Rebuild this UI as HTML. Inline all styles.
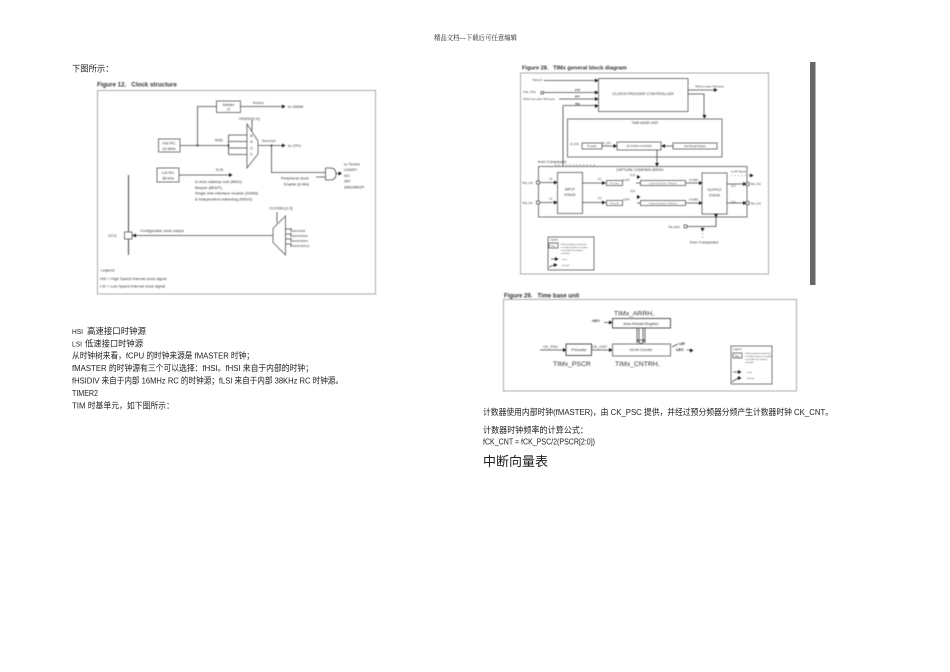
<!DOCTYPE html>
<html><head><meta charset="utf-8">
<style>
html,body{margin:0;padding:0;background:#fff;width:950px;height:672px;overflow:hidden}
svg{position:absolute;left:0;top:0}
.d{filter:blur(0.45px)}
.d text{font-family:"Liberation Sans",sans-serif;fill:#333}
.t{filter:blur(0.25px)}
.t text{font-family:"Liberation Sans","Noto Sans CJK SC",sans-serif;fill:#222;font-size:8.6px}
.l{stroke:#444;stroke-width:.8;fill:none}
.b{stroke:#555;stroke-width:.8;fill:#fff}
.a{fill:#111;stroke:none}
</style></head><body>
<svg width="950" height="672" viewBox="0 0 950 672" xmlns="http://www.w3.org/2000/svg">
<defs>
<g id="ar"><path class="a" d="M0-2L3.5 0L0 2Z"/></g>
<g id="ad"><path class="a" d="M-2 0L2 0L0 3.5Z"/></g>
<g id="al"><path class="a" d="M0-2L-3.5 0L0 2Z"/></g>
</defs>

<g class="t">
<text x="434" y="40" textLength="83" lengthAdjust="spacingAndGlyphs" style="font-family:'Liberation Serif','Noto Serif CJK SC',serif;font-size:6.8px" fill="#444">精品文档---下载后可任意编辑</text>
<text x="72" y="71.500" style="font-size:8.300px">下图所示：</text>
<text x="72" y="334" textLength="11" lengthAdjust="spacingAndGlyphs" style="font-size:7.500px">HSI</text>
<text x="87" y="334" textLength="59" lengthAdjust="spacingAndGlyphs">高速接口时钟源</text>
<text x="72" y="346.500" textLength="10" lengthAdjust="spacingAndGlyphs" style="font-size:7.500px">LSI</text>
<text x="85" y="346.500" textLength="58" lengthAdjust="spacingAndGlyphs">低速接口时钟源</text>
<text x="72" y="358.500" textLength="182" lengthAdjust="spacingAndGlyphs">从时钟树来看，fCPU 的时钟来源是 fMASTER 时钟；</text>
<text x="72" y="371" textLength="241" lengthAdjust="spacingAndGlyphs">fMASTER 的时钟源有三个可以选择：fHSI。fHSI 来自于内部的时钟；</text>
<text x="72" y="383.500" textLength="271" lengthAdjust="spacingAndGlyphs">fHSIDIV 来自于内部 16MHz RC 的时钟源；fLSI 来自于内部 38KHz RC 时钟源。</text>
<text x="72" y="396" textLength="26" lengthAdjust="spacingAndGlyphs" style="font-size:7.800px">TIMER2</text>
<text x="72" y="408.500" textLength="102" lengthAdjust="spacingAndGlyphs">TIM 时基单元，如下图所示：</text>
<text x="483" y="415" textLength="350" lengthAdjust="spacingAndGlyphs">计数器使用内部时钟(fMASTER)，由 CK_PSC 提供，并经过预分频器分频产生计数器时钟 CK_CNT。</text>
<text x="483" y="433" textLength="105" lengthAdjust="spacingAndGlyphs">计数器时钟频率的计算公式：</text>
<text x="483" y="444.500" textLength="112" lengthAdjust="spacingAndGlyphs">fCK_CNT = fCK_PSC/2(PSCR[2:0])</text>
<text x="483" y="466" style="font-size:13px">中断向量表</text>
</g>

<!-- Figure 12 -->
<g class="d">
<text x="97" y="86.500" font-size="6.200" font-weight="bold">Figure 12.&#160;&#160;&#160;Clock structure</text>
<rect x="97.500" y="90.500" width="278" height="203.500" fill="#fff" stroke="#aaa" stroke-width="1"/>
<rect class="b" x="216.500" y="101" width="24" height="11.500"/>
<text x="228.500" y="105.800" font-size="3.800" text-anchor="middle">Divider</text>
<text x="228.500" y="110.500" font-size="3.800" text-anchor="middle">/2</text>
<text x="253" y="104" font-size="4">f<tspan font-size="3">HSIDIV</tspan></text>
<path class="l" d="M240.500 106.500H283M197.500 145.500V106.500H216.500M180 145.500H228M228.500 135V154.500M228.500 135H247M228.500 141.500H247M228.500 148H247M228.500 154.500H247M258 145.500H282M271.500 145.500V172.500H325"/>
<use href="#ar" x="282" y="106.500"/><use href="#ar" x="282" y="145.500"/>
<text x="288" y="107.800" font-size="4">to SWIM</text>
<text x="288" y="146.800" font-size="4">to CPU</text>
<rect class="b" x="158.500" y="139" width="21.500" height="13"/>
<text x="169" y="144.500" font-size="3.900" text-anchor="middle">HSI RC</text>
<text x="169" y="149.800" font-size="3.900" text-anchor="middle">16 MHz</text>
<text x="215" y="141.500" font-size="4">fHSI</text>
<circle class="a" cx="197.500" cy="145.500" r=".9"/><circle class="a" cx="228.500" cy="145.500" r=".9"/><circle class="a" cx="271.500" cy="145.500" r=".9"/>
<path class="b" d="M247 124L258 141V154L247 168Z"/>
<path class="l" d="M252 131V120"/>
<text x="239" y="120" font-size="3.900">HSIDIV[1:0]</text>
<text x="250" y="137" font-size="3.200">/8</text><text x="250" y="143" font-size="3.200">/4</text><text x="250" y="149.500" font-size="3.200">/2</text><text x="250" y="155.500" font-size="3.200">/1</text>
<text x="262" y="142" font-size="3.900">f<tspan font-size="3">MASTER</tspan></text>
<rect class="b" x="157" y="168" width="22" height="14"/>
<text x="168" y="174" font-size="3.900" text-anchor="middle">LSI RC</text>
<text x="168" y="179.500" font-size="3.900" text-anchor="middle">38 kHz</text>
<path class="l" d="M179 175H231"/><use href="#ar" x="229" y="175"/>
<text x="216" y="171" font-size="4">fLSI</text>
<text x="195" y="183" font-size="3.900">to Auto wakeup unit (AWU),</text>
<text x="195" y="189" font-size="3.900">Beeper (BEEP),</text>
<text x="195" y="194.500" font-size="3.900">Single wire interface module (SWIM)</text>
<text x="195" y="200.500" font-size="3.900">&amp; Independent watchdog (IWDG)</text>
<text x="281" y="179.500" font-size="3.900">Peripheral clock</text>
<text x="284" y="185.500" font-size="3.900">Enable (8 bits)</text>
<path class="l" d="M316 177H325M325.500 168V180M325.500 168H330Q336 168 336 174Q336 180 330 180H325.500M336 173.500H340"/>
<use href="#ar" x="338.500" y="173.500"/>
<text x="344" y="165.500" font-size="3.900">to Timers</text>
<text x="344" y="171" font-size="3.900">USART</text>
<text x="344" y="177" font-size="3.900">I2C</text>
<text x="344" y="182.500" font-size="3.900">SPI</text>
<text x="344" y="188.500" font-size="3.900">AWU/BEEP</text>
<path d="M128.500 175V255" stroke="#555" stroke-width="1.100" fill="none"/>
<rect class="b" x="124.500" y="232" width="7.500" height="7"/>
<text x="108" y="237" font-size="3.900">CCO</text>
<path class="l" d="M132 235.500H273"/><use href="#al" x="136" y="235.500"/>
<text x="140" y="232" font-size="3.900">Configurable clock output</text>
<text x="269" y="209.500" font-size="3.900">CCOSEL[1:0]</text>
<path class="l" d="M277 223V212"/>
<path class="b" d="M273 228.500L285.500 216V255L273 242.500Z"/>
<path class="l" d="M285.500 229H291M285.500 234H291M285.500 239H291M285.500 244H291M291 228V232M291 233V237M291 238V242M291 243V247"/>
<text x="292" y="232" font-size="3">fMASTER</text><text x="292" y="237" font-size="3">fMASTER/2</text><text x="292" y="242" font-size="3">fMASTER/4</text><text x="292" y="247" font-size="3">fMASTER/16</text>
<text x="101" y="271.500" font-size="3.900">Legend:</text>
<text x="100" y="280" font-size="3.900">HSI = High Speed Internal clock signal</text>
<text x="100" y="287.500" font-size="3.900">LSI = Low Speed Internal clock signal</text>
</g>

<!-- Figure 28 -->
<g class="d">
<text x="522" y="69.500" font-size="5.600" font-weight="bold">Figure 28.&#160;&#160;&#160;TIMx general block diagram</text>
<rect x="520.500" y="73" width="248" height="201" fill="#fff" stroke="#aaa" stroke-width="1"/>
<rect class="b" x="598.500" y="78.500" width="89.500" height="33"/>
<text x="643" y="95" font-size="4" text-anchor="middle">CLOCK/TRIGGER CONTROLLER</text>
<path class="l" d="M544 80.500H598M544 92.500H598M559 99H598M563 105.500H598M563 106V172"/>
<use href="#ar" x="595" y="80.500"/><use href="#ar" x="595" y="92.500"/><use href="#ar" x="595" y="99"/><use href="#ar" x="595" y="106"/>
<text x="532" y="81" font-size="2.500">TIMxCLK</text>
<text x="523" y="93" font-size="2.500">TIMx_TRIG</text><rect class="b" x="541" y="91.500" width="2.500" height="2.500"/>
<text x="523" y="100" font-size="2.500">TRGO from other TIM timers</text>
<text x="575" y="91" font-size="2.500" font-weight="bold">ETR</text><text x="575" y="97.500" font-size="2.500" font-weight="bold">RFY</text><text x="575" y="105" font-size="2.500" font-weight="bold">TRC</text>
<path class="l" d="M688 90H716M688 94H704V118"/><use href="#ar" x="714" y="90"/><use href="#ad" x="704.500" y="115"/>
<text x="695" y="87.500" font-size="2.500">TRGO to other TIM timers</text>
<rect class="b" x="567.500" y="119" width="154.500" height="38"/>
<text x="645" y="124" font-size="3.400" text-anchor="middle">TIME BASE UNIT</text>
<rect class="b" x="582" y="143" width="20" height="6"/>
<text x="592" y="147" font-size="2.300" text-anchor="middle">Prescaler</text>
<rect class="b" x="617" y="142" width="44" height="8"/>
<text x="639" y="147" font-size="2.500" text-anchor="middle">UP-DOWN COUNTER</text>
<rect class="b" x="673" y="143" width="44" height="6" stroke-width="1.100"/>
<text x="695" y="147" font-size="2.300" text-anchor="middle">Auto-Reload Register</text>
<text x="570" y="145" font-size="2.300">CK_PSC</text><text x="602" y="144" font-size="2.300">CK_CNT</text>
<path class="l" d="M602 146H617M673 146H661M657 150V166"/><use href="#ar" x="613.500" y="146"/><use href="#al" x="665" y="146"/><use href="#ad" x="657" y="163"/>
<text x="538" y="163" font-size="3.800">from Comparator</text>
<path d="M555 165H594.500V186" stroke="#777" stroke-width=".7" stroke-dasharray="1.500 2" fill="none"/>
<rect class="b" x="538.500" y="166.500" width="208.500" height="50.500"/>
<text x="640" y="171" font-size="3.500" text-anchor="middle">CAPTURE COMPARE ARRAY</text>
<rect class="b" x="557.500" y="172.500" width="25" height="41"/>
<text x="570" y="190.500" font-size="3.500" text-anchor="middle">INPUT</text><text x="570" y="196" font-size="3.500" text-anchor="middle">STAGE</text>
<rect class="b" x="702" y="173" width="25" height="41"/>
<text x="714.500" y="191" font-size="3.500" text-anchor="middle">OUTPUT</text><text x="714.500" y="196.500" font-size="3.500" text-anchor="middle">STAGE</text>
<path class="l" d="M540 182.500H557M540 202.500H557M582 183H606M582 202.500H606M636 183H640M637 203H640M686 183H702M686 203H702M727 184H746M727 203H746"/>
<use href="#ar" x="554" y="182.500"/><use href="#ar" x="554" y="202.500"/><use href="#ar" x="602" y="183"/><use href="#ar" x="602" y="202.500"/><use href="#ar" x="699" y="183"/><use href="#ar" x="699" y="203"/><use href="#ar" x="743" y="184"/><use href="#ar" x="743" y="203"/>
<rect class="b" x="536.500" y="181" width="3" height="3"/><rect class="b" x="536.500" y="201" width="3" height="3"/><rect class="b" x="746" y="182.500" width="3" height="3"/><rect class="b" x="746" y="201.500" width="3" height="3"/>
<text x="522" y="184" font-size="2.300">TIMx_CH2</text><text x="522" y="204" font-size="2.300">TIMx_CH1</text>
<text x="750" y="185" font-size="2.300">TIMx_CH1</text><text x="750" y="204.500" font-size="2.300">TIMx_CH2</text>
<text x="549" y="180" font-size="2.300">TI2</text><text x="549" y="200" font-size="2.300">TI1</text>
<text x="598" y="180" font-size="2.300">IC1</text><text x="598" y="199" font-size="2.300">IC2</text>
<rect class="b" x="606.500" y="180.500" width="16" height="5" fill="#eee"/><text x="614.500" y="184" font-size="2.200" text-anchor="middle">Prescaler</text>
<rect class="b" x="606.500" y="200.500" width="16" height="5" fill="#eee"/><text x="614.500" y="204" font-size="2.200" text-anchor="middle">Prescaler</text>
<text x="623" y="181" font-size="2.300">IC1PS</text><text x="623" y="200.500" font-size="2.300">IC2PS</text>
<rect class="b" x="640.500" y="180.500" width="45" height="5" stroke-width="1.100"/><text x="663" y="184" font-size="2.200" text-anchor="middle">Capture/Compare 1 Register</text>
<rect class="b" x="640.500" y="200.500" width="45" height="5" stroke-width="1.100"/><text x="663" y="204" font-size="2.200" text-anchor="middle">Capture/Compare 2 Register</text>
<text x="630" y="176" font-size="2.300">CC1I</text><text x="630" y="192" font-size="2.300">CC2I</text>
<use href="#ar" x="637" y="177"/><use href="#ar" x="637" y="197"/>
<text x="689" y="181" font-size="2.300">OC1REF</text><text x="689" y="200.500" font-size="2.300">OC2REF</text>
<text x="731" y="187" font-size="2.300">OC1</text><text x="731" y="203" font-size="2.300">OC2</text>
<text x="731" y="172.500" font-size="3">to IPI block</text>
<path d="M731 175.500H750" stroke="#888" stroke-width=".7" stroke-dasharray="1 2.500" fill="none"/><use href="#ar" x="750" y="175.500"/>
<path class="l" d="M686 226.500H716V214"/><use href="#ad" x="716" y="214"/>
<rect class="b" x="684" y="225" width="3" height="3"/>
<text x="668" y="228" font-size="2.300">TIMx_BKIN</text>
<path d="M702.500 226V240" stroke="#888" stroke-width=".7" stroke-dasharray="1.500 2" fill="none"/><use href="#ad" x="702.500" y="228"/>
<text x="690" y="243.500" font-size="3.800">from Comparator</text>
<rect class="b" x="548" y="237" width="46" height="33"/>
<text x="550" y="240.500" font-size="2.300">Legend</text>
<rect class="b" x="549" y="243" width="9" height="5" fill="#eee"/><text x="551" y="246.500" font-size="2.200">Reg</text>
<text x="561" y="245" font-size="2">Preload registers transferred</text><text x="561" y="248" font-size="2">to shadow registers on update</text><text x="561" y="251" font-size="2">event (UEV) according to</text><text x="561" y="254" font-size="2">control bit</text>
<path class="l" d="M551 259H556M549 267L554 265"/><use href="#ar" x="555" y="259"/><use href="#ar" x="554" y="265"/>
<text x="562" y="260" font-size="2">event</text><text x="562" y="266" font-size="2">interrupt</text>
</g>
<rect x="810" y="62" width="5.500" height="223" fill="#666"/>

<!-- Figure 29 -->
<g class="d">
<text x="504" y="297.500" font-size="6" font-weight="bold">Figure 29.&#160;&#160;&#160;Time base unit</text>
<rect x="503.500" y="299.500" width="293" height="91.500" fill="#fff" stroke="#aaa" stroke-width="1"/>
<text x="614" y="315.500" font-size="6.800">TIMx_ARRH,</text>
<rect x="612.500" y="318.500" width="58" height="9.500" fill="#fff" stroke="#555" stroke-width="1"/>
<text x="641" y="325" font-size="3.700" text-anchor="middle">Auto-Reload Register</text>
<text x="592" y="322" font-size="3.800" font-weight="bold">UEV</text>
<path class="l" d="M604 322.500H612M637 328V343M639 328V343M643 328V343M645 328V343"/><use href="#ar" x="609" y="322.500"/>
<path class="l" d="M637 340H645L641 344Z"/>
<text x="543" y="348" font-size="3.800">CK_PSC</text>
<path class="l" d="M540 350H566M592 350H612"/><use href="#ar" x="563" y="350"/><use href="#ar" x="609" y="350"/>
<rect x="566" y="344" width="25.500" height="11.500" fill="#fff" stroke="#555" stroke-width="1"/>
<text x="579" y="351" font-size="3.700" text-anchor="middle">Prescaler</text>
<text x="592" y="348" font-size="3.800">CK_CNT</text>
<rect class="b" x="612.500" y="344" width="58" height="12"/>
<text x="641" y="351" font-size="3.700" text-anchor="middle">16-bit Counter</text>
<text x="679" y="345" font-size="3.800" font-weight="bold">UIF</text><text x="676" y="351" font-size="3.800" font-weight="bold">UEV</text>
<path class="l" d="M672 347L678 344M687 350H692"/><use href="#ar" x="690" y="350.500"/>
<text x="553" y="366" font-size="6.800">TIMx_PSCR</text>
<text x="615" y="366" font-size="6.800">TIMx_CNTRH,</text>
<rect class="b" x="731" y="346" width="41" height="38"/>
<text x="733" y="350" font-size="2.500">Legend</text>
<rect class="b" x="733" y="353" width="9" height="5" fill="#eee"/><text x="735" y="356.800" font-size="2.300">Reg</text>
<text x="745" y="354" font-size="2">Preload registers transferred</text><text x="745" y="357" font-size="2">to shadow registers on update</text><text x="745" y="360" font-size="2">event (UEV) according to</text><text x="745" y="363" font-size="2">control bit</text>
<path class="l" d="M733 372H739M732 382L738 378"/><use href="#ar" x="738" y="372"/><use href="#ar" x="738" y="378"/>
<text x="747" y="373" font-size="2">event</text><text x="747" y="379" font-size="2">interrupt</text>
</g>
</svg>
</body></html>
